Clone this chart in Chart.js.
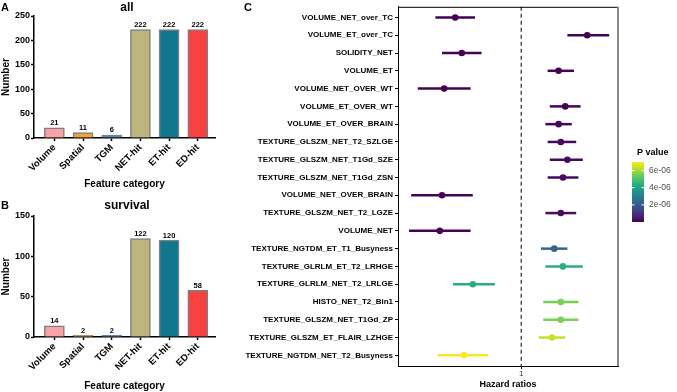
<!DOCTYPE html>
<html lang="en">
<head>
<meta charset="UTF-8">
<title>Feature category counts and hazard ratios</title>
<style>
  body { margin: 0; background: #ffffff; }
  #wrap { position: relative; width: 677px; height: 392px; }
  canvas { position: absolute; }
  #chartA { left: 0; top: 0; }
  #chartB { left: 0; top: 190px; }
  #chartC { left: 220px; top: 0; }
</style>
</head>
<body>
<div id="wrap">
  <canvas id="chartA" width="220" height="190"></canvas>
  <canvas id="chartB" width="220" height="202"></canvas>
  <canvas id="chartC" width="457" height="392"></canvas>
</div>
<script src="https://cdn.jsdelivr.net/npm/chart.js"></script>
<script>
// panel A / B data
const categories = ['Volume', 'Spatial', 'TGM', 'NET-hit', 'ET-hit', 'ED-hit'];
const allCounts = [21, 11, 6, 222, 222, 222];
const survivalCounts = [14, 2, 2, 122, 120, 58];

// panel C data
const features = [
  'VOLUME_NET_over_TC', 'VOLUME_ET_over_TC', 'SOLIDITY_NET', 'VOLUME_ET',
  'VOLUME_NET_OVER_WT', 'VOLUME_ET_OVER_WT', 'VOLUME_ET_OVER_BRAIN',
  'TEXTURE_GLSZM_NET_T2_SZLGE', 'TEXTURE_GLSZM_NET_T1Gd_SZE', 'TEXTURE_GLSZM_NET_T1Gd_ZSN',
  'VOLUME_NET_OVER_BRAIN', 'TEXTURE_GLSZM_NET_T2_LGZE', 'VOLUME_NET',
  'TEXTURE_NGTDM_ET_T1_Busyness', 'TEXTURE_GLRLM_ET_T2_LRHGE', 'TEXTURE_GLRLM_NET_T2_LRLGE',
  'HISTO_NET_T2_Bin1', 'TEXTURE_GLSZM_NET_T1Gd_ZP', 'TEXTURE_GLSZM_ET_FLAIR_LZHGE',
  'TEXTURE_NGTDM_NET_T2_Busyness'
];
const hazardRatio = [0.70, 1.30, 0.73, 1.17, 0.65, 1.20, 1.17, 1.18, 1.21, 1.19,
                     0.64, 1.18, 0.63, 1.15, 1.19, 0.78, 1.18, 1.18, 1.14, 0.74];
const ciLower = [0.61, 1.21, 0.64, 1.12, 0.53, 1.13, 1.11, 1.12, 1.13, 1.12,
                 0.50, 1.11, 0.49, 1.09, 1.11, 0.69, 1.10, 1.10, 1.08, 0.62];
const ciUpper = [0.79, 1.40, 0.82, 1.24, 0.77, 1.27, 1.23, 1.25, 1.28, 1.26,
                 0.78, 1.25, 0.77, 1.21, 1.28, 0.88, 1.26, 1.26, 1.20, 0.85];
const pValues = [3.1e-9, 8.4e-10, 2.6e-8, 5.0e-8, 1.2e-8, 7.5e-8, 9.8e-8, 1.4e-7, 1.9e-7, 2.2e-7,
                 2.9e-8, 2.6e-7, 3.3e-8, 2.3e-6, 4.4e-6, 4.35e-6, 5.6e-6, 5.6e-6, 6.4e-6, 7.0e-6];
const hrTicks = [1];
const pTicks = [2e-6, 4e-6, 6e-6];
const pTickLabels = ['2e-06', '4e-06', '6e-06'];

const barFill = ['#f9a3a6', '#f4a240', '#3d8fd9', '#bcb57c', '#11778f', '#f84141'];
const FONT = "'Liberation Sans', Arial, sans-serif";

const viridisStops = ['#440154', '#482475', '#414487', '#355f8d', '#2a788e', '#21918c',
                      '#22a884', '#44bf70', '#7ad151', '#bddf26', '#fde725'];
function hex2rgb(h) { return [1, 3, 5].map(k => parseInt(h.substr(k, 2), 16)); }
function viridis(t) {
  t = Math.max(0, Math.min(1, t));
  const f = t * 10, i = Math.min(9, Math.floor(f)), r = f - i;
  const a = hex2rgb(viridisStops[i]), b = hex2rgb(viridisStops[i + 1]);
  const c = a.map((v, k) => Math.round(v + (b[k] - v) * r));
  return `rgb(${c[0]},${c[1]},${c[2]})`;
}
const pMin = Math.min(...pValues), pMax = Math.max(...pValues);
const pColors = pValues.map(p => viridis((p - pMin) / (pMax - pMin)));

// titles, panel letters and value labels for bar panels
function barText(letter, title, titleY, counts) {
  return {
    id: 'barText',
    afterDatasetsDraw(chart) {
      const ctx = chart.ctx;
      ctx.save();
      ctx.fillStyle = '#000';
      ctx.textAlign = 'center';
      ctx.textBaseline = 'bottom';
      ctx.font = `bold 7.5px ${FONT}`;
      chart.getDatasetMeta(0).data.forEach((bar, i) => {
        ctx.fillText(counts[i], bar.x, bar.y - 1);
      });
      ctx.textBaseline = 'middle';
      ctx.font = `bold 12px ${FONT}`;
      ctx.fillText(title, 127, titleY);
      ctx.textAlign = 'left';
      ctx.font = `bold 11px ${FONT}`;
      ctx.fillText(letter, 1, titleY);
      ctx.restore();
    }
  };
}

function barChart(id, counts, yMax, letter, title, titleY, topPad, xHeight) {
  return new Chart(document.getElementById(id), {
    type: 'bar',
    data: {
      datasets: [{
        data: counts.map((v, i) => ({ x: i, y: v })),
        backgroundColor: barFill,
        borderColor: '#7f7f7f',
        borderWidth: 1.5,
        barThickness: 20
      }]
    },
    options: {
      responsive: false,
      animation: false,
      layout: { padding: { top: topPad, right: 5, left: 0, bottom: 0 } },
      plugins: { legend: { display: false }, tooltip: { enabled: false } },
      scales: {
        x: {
          type: 'linear', min: -0.71, max: 5.6, offset: false,
          afterBuildTicks: s => { s.ticks = categories.map((_, i) => ({ value: i })); },
          afterFit: s => { s.height = xHeight; },
          grid: { drawOnChartArea: false, tickLength: 3, tickColor: '#000', tickWidth: 1.5, offset: false },
          border: { color: '#000', width: 1.5 },
          ticks: {
            callback: v => categories[v], minRotation: 45, maxRotation: 45, autoSkip: false,
            padding: 1, color: '#000', font: { family: FONT, weight: 'bold', size: 9.5 }
          },
          title: { display: true, text: 'Feature category', color: '#000', padding: 0,
                   font: { family: FONT, weight: 'bold', size: 10 } }
        },
        y: {
          min: 0, max: yMax,
          afterFit: s => { s.width = 34; },
          grid: { drawOnChartArea: false, tickLength: 3, tickColor: '#000', tickWidth: 1.5 },
          border: { color: '#000', width: 1.5 },
          ticks: { stepSize: 50, padding: 1, color: '#000', font: { family: FONT, weight: 'bold', size: 9 } },
          title: { display: true, text: 'Number', color: '#000', padding: 0,
                   font: { family: FONT, weight: 'bold', size: 10 } }
        }
      }
    },
    plugins: [barText(letter, title, titleY, counts)]
  });
}

barChart('chartA', allCounts, 250, 'A', 'all', 8, 16, 52);
barChart('chartB', survivalCounts, 150, 'B', 'survival', 16, 26, 55);

// forest plot extras: reference line, CI bars, frame, colour bar
const forestPlugin = {
  id: 'forest',
  beforeDatasetsDraw(chart) {
    const { ctx, chartArea, scales: { x, y } } = chart;
    ctx.save();
    const x1 = x.getPixelForValue(1);
    ctx.strokeStyle = '#000';
    ctx.lineWidth = 1;
    ctx.setLineDash([4, 3]);
    ctx.beginPath();
    ctx.moveTo(x1, chartArea.top);
    ctx.lineTo(x1, chartArea.bottom);
    ctx.stroke();
    ctx.setLineDash([]);
    ctx.lineWidth = 2.5;
    features.forEach((f, i) => {
      const py = y.getPixelForValue(i + 1);
      ctx.strokeStyle = pColors[i];
      ctx.beginPath();
      ctx.moveTo(x.getPixelForValue(ciLower[i]), py);
      ctx.lineTo(x.getPixelForValue(ciUpper[i]), py);
      ctx.stroke();
    });
    ctx.restore();
  },
  afterDraw(chart) {
    const { ctx, chartArea } = chart;
    ctx.save();
    // frame top and right
    ctx.strokeStyle = '#000';
    ctx.lineWidth = 1;
    ctx.beginPath();
    ctx.moveTo(chartArea.left, chartArea.top + 0.5);
    ctx.lineTo(chartArea.right, chartArea.top + 0.5);
    ctx.stroke();
    ctx.strokeStyle = '#888';
    ctx.lineWidth = 2;
    ctx.beginPath();
    ctx.moveTo(chartArea.right, chartArea.top);
    ctx.lineTo(chartArea.right, chartArea.bottom);
    ctx.stroke();

    // colour bar
    const bx = chartArea.right + 14, by = 162, bw = 12, bh = 60;
    const g = ctx.createLinearGradient(0, by + bh, 0, by);
    viridisStops.forEach((c, i) => g.addColorStop(i / 10, c));
    ctx.fillStyle = g;
    ctx.fillRect(bx, by, bw, bh);
    ctx.strokeStyle = '#fff';
    ctx.lineWidth = 1;
    ctx.font = `8.5px ${FONT}`;
    ctx.fillStyle = '#4d4d4d';
    ctx.textAlign = 'left';
    ctx.textBaseline = 'middle';
    pTicks.forEach((v, i) => {
      const ty = by + bh - (v - pMin) / (pMax - pMin) * bh;
      ctx.beginPath();
      ctx.moveTo(bx, ty); ctx.lineTo(bx + 2.5, ty);
      ctx.moveTo(bx + bw - 2.5, ty); ctx.lineTo(bx + bw, ty);
      ctx.stroke();
      ctx.fillText(pTickLabels[i], bx + bw + 5, ty);
    });
    ctx.fillStyle = '#000';
    ctx.font = `bold 9px ${FONT}`;
    ctx.fillText('P value', bx + 5, 153);

    ctx.font = `bold 11px ${FONT}`;
    ctx.fillText('C', 24, 8);
    ctx.restore();
  }
};

new Chart(document.getElementById('chartC'), {
  type: 'scatter',
  data: {
    datasets: [{
      data: hazardRatio.map((v, i) => ({ x: v, y: i + 1 })),
      pointBackgroundColor: pColors,
      pointBorderWidth: 0,
      pointRadius: 3.3
    }]
  },
  options: {
    responsive: false,
    animation: false,
    layout: { padding: { top: 4, right: 59, left: 0, bottom: 0 } },
    plugins: { legend: { display: false }, tooltip: { enabled: false } },
    scales: {
      x: {
        type: 'linear', min: 0.44, max: 1.44,
        afterBuildTicks: s => { s.ticks = hrTicks.map(v => ({ value: v })); },
        afterFit: s => { s.height = 26; },
        grid: { drawOnChartArea: false, tickLength: 3, tickColor: '#000' },
        border: { color: '#000', width: 1 },
        ticks: { color: '#333', padding: 0, font: { family: FONT, size: 8 }, callback: v => String(v) },
        title: { display: true, text: 'Hazard ratios', color: '#000', padding: { top: 0, bottom: 2 },
                 font: { family: FONT, weight: 'bold', size: 9 } }
      },
      y: {
        type: 'linear', reverse: true, min: 0.4, max: 20.6,
        afterBuildTicks: s => { s.ticks = features.map((_, i) => ({ value: i + 1 })); },
        afterFit: s => { s.width = 178; },
        grid: { drawOnChartArea: false, tickLength: 3, tickColor: '#000' },
        border: { color: '#000', width: 1 },
        ticks: { autoSkip: false, padding: 2, color: '#000', callback: v => features[v - 1],
                 font: { family: FONT, weight: 'bold', size: 8 } }
      }
    }
  },
  plugins: [forestPlugin]
});
</script>
</body>
</html>
